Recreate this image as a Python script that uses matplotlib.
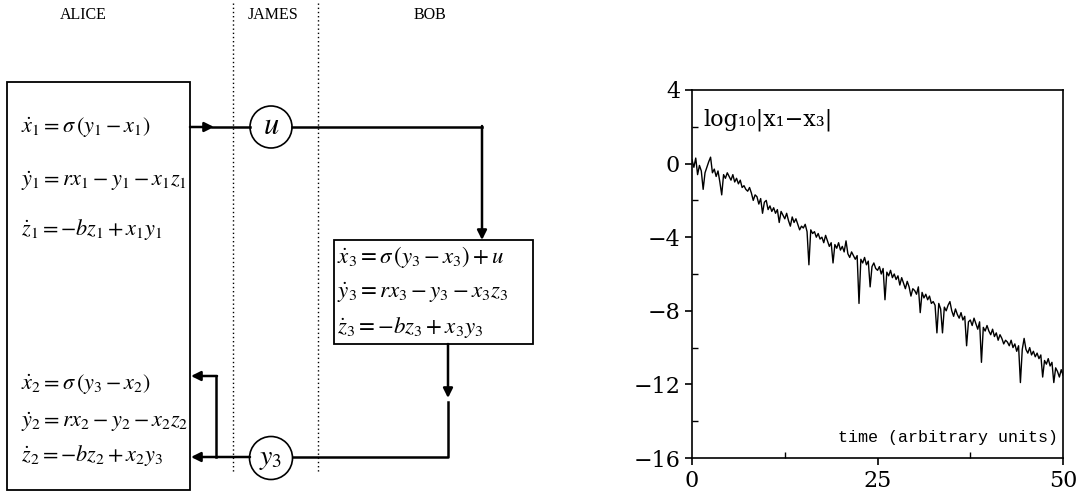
import matplotlib
matplotlib.use('Agg')
import matplotlib.pyplot as plt
import numpy as np
from matplotlib.patches import Rectangle, Circle

plt.rcParams['mathtext.fontset'] = 'stix'

# log10|x1 - x3|, every 0.25 time units
t_step = 0.25
logdiff = [
    0.2, -0.2, 0.3, -0.6, -0.1, -0.4, -1.4, -0.5, -0.2, 0.1,
    0.35, -0.5, -0.3, -0.7, -0.4, -1.0, -1.7, -0.6, -0.8, -0.5,
    -0.7, -0.9, -0.6, -1.0, -0.8, -1.1, -0.9, -1.3, -1.2, -1.4,
    -1.5, -1.3, -1.6, -2.0, -1.7, -1.8, -2.2, -1.9, -2.7, -2.1,
    -2.0, -2.5, -2.3, -2.6, -2.4, -2.7, -2.5, -3.2, -2.6, -2.8,
    -3.0, -2.7, -3.1, -3.4, -2.9, -3.2, -3.0, -3.3, -3.6, -3.4,
    -3.5, -3.3, -3.7, -5.5, -3.6, -3.8, -3.7, -4.0, -3.8, -4.1,
    -4.0, -4.3, -3.9, -4.2, -4.5, -4.3, -5.4, -4.4, -4.6, -4.3,
    -4.7, -4.5, -4.8, -4.2, -4.9, -5.1, -4.8, -5.0, -5.2, -5.0,
    -7.6, -5.2, -5.4, -5.1, -5.5, -5.3, -6.7, -5.6, -5.4, -5.7,
    -5.8, -5.6, -6.0, -5.7, -7.4, -5.9, -6.1, -5.8, -6.2, -6.0,
    -6.3, -6.1, -6.6, -6.2, -6.5, -6.8, -6.4, -6.7, -7.2, -6.8,
    -6.9, -7.1, -6.7, -8.1, -7.0, -7.3, -7.1, -7.4, -7.2, -7.6,
    -7.5, -7.7, -9.2, -7.6, -7.9, -9.2, -7.8, -8.0, -7.7, -7.5,
    -8.0, -8.3, -7.9, -8.2, -8.4, -8.1, -8.5, -8.3, -9.9, -8.6,
    -8.5, -8.8, -8.4, -8.7, -9.0, -8.6, -10.8, -8.9, -9.1, -8.8,
    -9.1, -9.3, -9.0, -9.4, -9.2, -9.6, -9.3, -9.5, -9.8, -9.6,
    -9.7, -9.9, -9.6, -10.0, -9.8, -10.2, -9.9, -11.9, -10.1, -9.5,
    -10.1, -10.3, -10.0, -10.4, -10.2, -10.5, -10.3, -10.6, -10.4, -11.6,
    -10.7, -10.9, -10.6, -11.0, -10.8, -11.9, -11.1, -11.3, -11.6, -11.2,
    -11.5,
]
time = np.arange(len(logdiff)) * t_step

x_ticks = [0, 25, 50]
y_ticks = [4, 0, -4, -8, -12, -16]

alice_eqs = [r'$\dot{x}_1 = \sigma\,(y_1 - x_1)$',
             r'$\dot{y}_1 = rx_1 - y_1 - x_1z_1$',
             r'$\dot{z}_1 = -bz_1 + x_1y_1$']
alice_eqs2 = [r'$\dot{x}_2 = \sigma\,(y_3 - x_2)$',
              r'$\dot{y}_2 = rx_2 - y_2 - x_2z_2$',
              r'$\dot{z}_2 = -bz_2 + x_2y_3$']
bob_eqs = [r'$\dot{x}_3 = \sigma\,(y_3 - x_3) + u$',
           r'$\dot{y}_3 = rx_3 - y_3 - x_3z_3$',
           r'$\dot{z}_3 = -bz_3 + x_3y_3$']

fig = plt.figure(figsize=(10.84, 4.92), dpi=100)

# diagram drawn in pixel coordinates
d = fig.add_axes([0, 0, 1, 1])
d.set_xlim(0, 1084)
d.set_ylim(492, 0)
d.axis('off')

serif = 'Liberation Serif'
for name, xc in [('ALICE', 83), ('JAMES', 273), ('BOB', 430)]:
    d.text(xc, 15, name, ha='center', va='center', fontsize=11.5, family=serif)

for xv in [233, 318]:
    d.plot([xv, xv], [3, 472], color='k', lw=1, ls=(0, (1, 2)))

d.add_patch(Rectangle((7, 82), 183, 408, fill=False, lw=1.3, ec='k'))
d.add_patch(Rectangle((334, 240), 199, 104, fill=False, lw=1.3, ec='k'))
d.add_patch(Circle((271, 127), 21, fill=False, lw=1.2, ec='k'))
d.add_patch(Circle((271, 458), 21.5, fill=False, lw=1.2, ec='k'))
d.text(271, 126, r'$u$', ha='center', va='center', fontsize=22)
d.text(271, 458, r'$y_3$', ha='center', va='center', fontsize=20)

for eq, yc in zip(alice_eqs, [127, 181, 229]):
    d.text(21, yc, eq, ha='left', va='center', fontsize=16)
for eq, yc in zip(alice_eqs2, [384, 422, 456]):
    d.text(21, yc, eq, ha='left', va='center', fontsize=16)
for eq, yc in zip(bob_eqs, [257, 293, 327]):
    d.text(337, yc, eq, ha='left', va='center', fontsize=16.5)

lw = 1.8
ap = dict(arrowstyle='-|>', lw=lw, color='k', mutation_scale=14, shrinkA=0, shrinkB=0)
# Alice -> u -> Bob
d.annotate('', xy=(214, 127), xytext=(190, 127), arrowprops=ap)
d.plot([212, 250], [127, 127], color='k', lw=lw)
d.plot([292, 482], [127, 127], color='k', lw=lw)
d.annotate('', xy=(482, 240), xytext=(482, 126), arrowprops=ap)
# Bob -> y3 -> Alice
d.annotate('', xy=(448, 398), xytext=(448, 344), arrowprops=ap)
d.plot([448, 448, 293], [402, 457, 457], color='k', lw=lw)
d.annotate('', xy=(191, 457), xytext=(250, 457), arrowprops=ap)
d.plot([216, 216], [457, 376], color='k', lw=lw)
d.annotate('', xy=(191, 376), xytext=(217, 376), arrowprops=ap)

# right panel
ax = fig.add_axes([0.6384, 0.0691, 0.3423, 0.748])
ax.plot(time, logdiff, color='k', lw=1.0)
ax.set_xlim(0, 50)
ax.set_ylim(-16, 4)
ax.set_xticks(x_ticks)
ax.set_yticks(y_ticks)
ax.set_xticklabels([str(v) for v in x_ticks])
ax.set_yticklabels([str(v).replace('-', '\u2212') for v in y_ticks])
ax.set_xticks([12.5, 37.5], minor=True)
ax.set_yticks([2, -2, -6, -10, -14], minor=True)
ax.tick_params(which='major', direction='out', length=5, width=1.2, labelsize=16)
ax.tick_params(which='minor', direction='in', length=4, width=1)
for lab in ax.get_xticklabels() + ax.get_yticklabels():
    lab.set_family('DejaVu Serif')
for s in ax.spines.values():
    s.set_linewidth(1.2)
ax.text(0.03, 0.95, 'log\u2081\u2080|x\u2081\u2212x\u2083|', transform=ax.transAxes,
        ha='left', va='top', fontsize=16, family='DejaVu Serif')
ax.text(0.985, 0.035, 'time (arbitrary units)', transform=ax.transAxes,
        ha='right', va='bottom', fontsize=12, family='Liberation Mono')

fig.savefig('out.png', dpi=100)
